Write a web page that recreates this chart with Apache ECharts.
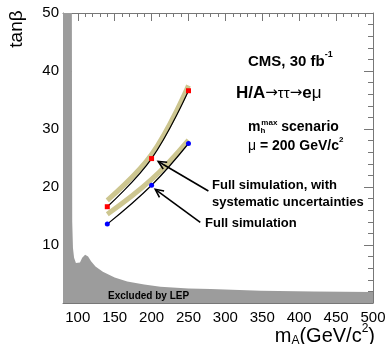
<!DOCTYPE html>
<html><head><meta charset="utf-8">
<script src="https://cdn.jsdelivr.net/npm/echarts@6/dist/echarts.min.js"></script>
<style>html,body{margin:0;padding:0;background:#fff}#c{width:389px;height:344px}</style>
</head><body><div id="c"></div>
<script>
// ---- data ----
const xTickLabels = [100, 150, 200, 250, 300, 350, 400, 450, 500];
const yTickLabels = [10, 20, 30, 40, 50];
const lepMass = [80, 92, 92.5, 93.5, 95, 97.5, 100, 103, 106, 110, 114, 118, 124, 134, 150, 167, 190, 212, 250, 280, 348, 420, 500];
const lepTanb = [50, 50, 14, 9.5, 7.8, 6.9, 6.6, 7.0, 7.8, 8.3, 8.0, 7.2, 6.3, 5.4, 4.4, 3.7, 3.2, 2.8, 2.5, 2.4, 2.1, 2.0, 1.9];
const massPoints = [140, 200, 250];
const fullSimSyst = [16.6, 24.9, 36.6];
const fullSim = [13.6, 20.3, 27.5];
const bandSyst = [17.7, 25.6, 37.5];
const bandSim = [15.3, 21.3, 28.1];
const arrowTail = [[277, 19.3], [266, 13.9]];
const arrowHead = [[209, 24.4], [205, 19.6]];

const zip = (a, b) => a.map((v, i) => [v, b[i]]);

// ---- text layout helper ----
const mctx = document.createElement('canvas').getContext('2d');
function tw(text, font) { mctx.font = font; return mctx.measureText(text).width; }
function runs(x, y, parts, anchor) {
  const total = parts.reduce((s, p) => s + tw(p[0], p[1]) + (p[3] || 0), 0);
  let cx = anchor === 'right' ? x - total : x;
  return parts.map(p => {
    const el = { type: 'text', x: cx, y: y + (p[2] || 0), z: 100,
      style: { text: p[0], font: p[1], fill: '#000', textAlign: 'left', textVerticalAlign: 'middle', align: 'left', verticalAlign: 'middle' } };
    cx += tw(p[0], p[1]) + (p[3] || 0);
    return el;
  });
}
const F = '"Liberation Sans", Arial, sans-serif';
const D = '"DejaVu Sans", sans-serif';
const B = s => 'bold ' + s + 'px ' + F;
const N = s => s + 'px ' + F;

const graphics = [].concat(
  runs(248, 62, [['CMS, 30 fb', B(15)], ['-1', B(9), -7]]),
  runs(236, 93, [['H/A', B(17)], ['\u2192', '15px ' + D, 0], ['\u03c4\u03c4', N(15), 1], ['\u2192', '15px ' + D, 0], ['e', B(17)], ['\u03bc', N(17)]]),
  runs(248, 127, [['m', B(14)], ['h', B(8), 4, -4], ['max', B(8), -4], [' scenario', B(14)]]),
  runs(248, 146, [['\u03bc', N(14)], [' = 200 GeV/c', B(14)], ['2', B(8), -6]]),
  runs(212, 185, [['Full simulation, with', B(13)]]),
  runs(212, 202, [['systematic uncertainties', B(13)]]),
  runs(205, 223, [['Full simulation', B(13)]]),
  runs(108, 296, [['Excluded by LEP', B(10)]]),
  runs(375, 336, [['m', N(20)], ['A', N(12), 5], ['(GeV/c', N(20)], ['2', N(12), -7], [')', N(20)]], 'right'),
  [{ type: 'text', x: 17, y: 29, rotation: Math.PI / 2, z: 100,
     style: { text: 'tan\u03b2', font: N(19), fill: '#000', textAlign: 'center', textVerticalAlign: 'middle', align: 'center', verticalAlign: 'middle' } }]
);

const frameColor = '#777';
const xBase = { type: 'value', min: 80, max: 500, splitLine: { show: false } };
const yBase = { type: 'value', min: 0, max: 50, interval: 10, splitLine: { show: false } };

const option = {
  animation: false,
  backgroundColor: '#fff',
  grid: { left: 63, right: 16, top: 13, bottom: 41, containLabel: false, outerBoundsMode: 'none' },
  xAxis: [
    Object.assign({}, xBase, { position: 'bottom',
      axisLine: { show: true, lineStyle: { color: frameColor } },
      axisTick: { show: true, inside: true, length: 8, customValues: xTickLabels, lineStyle: { color: frameColor } },
      axisLabel: { show: true, customValues: xTickLabels, color: '#000', fontSize: 15, fontFamily: F, margin: 7 } }),
    Object.assign({}, xBase, { position: 'bottom', interval: 10,
      axisLine: { show: false }, axisLabel: { show: false },
      axisTick: { show: true, inside: true, length: 4, lineStyle: { color: frameColor } } }),
    Object.assign({}, xBase, { position: 'top',
      axisLine: { show: true, lineStyle: { color: frameColor } }, axisLabel: { show: false },
      axisTick: { show: true, inside: true, length: 8, customValues: xTickLabels, lineStyle: { color: frameColor } } }),
    Object.assign({}, xBase, { position: 'top', interval: 10,
      axisLine: { show: false }, axisLabel: { show: false },
      axisTick: { show: true, inside: true, length: 4, lineStyle: { color: frameColor } } })
  ],
  yAxis: [
    Object.assign({}, yBase, { position: 'left',
      axisLine: { show: true, lineStyle: { color: frameColor } },
      axisTick: { show: true, inside: true, length: 9, lineStyle: { color: frameColor } },
      minorTick: { show: true, splitNumber: 5, length: 5, lineStyle: { color: frameColor } },
      axisLabel: { color: '#000', fontSize: 15, fontFamily: F, margin: 4,
        formatter: v => yTickLabels.indexOf(v) >= 0 ? String(v) : '' } }),
    Object.assign({}, yBase, { position: 'right',
      axisLine: { show: true, lineStyle: { color: frameColor } },
      axisTick: { show: true, inside: true, length: 9, lineStyle: { color: frameColor } },
      minorTick: { show: true, splitNumber: 5, length: 5, lineStyle: { color: frameColor } },
      axisLabel: { show: false } })
  ],
  series: [
    { type: 'line', data: zip(lepMass, lepTanb), symbol: 'none', z: 1,
      lineStyle: { width: 0 }, areaStyle: { color: '#9c9c9c', opacity: 1 } },
    { type: 'line', data: zip(massPoints, bandSyst), symbol: 'none', smooth: 0.4, z: 2,
      lineStyle: { color: '#cdc690', width: 5, cap: 'butt' } },
    { type: 'line', data: zip(massPoints, bandSim), symbol: 'none', smooth: 0.4, z: 2,
      lineStyle: { color: '#cdc690', width: 5, cap: 'butt' } },
    { type: 'line', data: zip(massPoints, fullSimSyst), smooth: 0.4, z: 3,
      symbol: 'rect', symbolSize: 5, showSymbol: true,
      itemStyle: { color: '#ff0000' }, lineStyle: { color: '#000', width: 1.2 } },
    { type: 'line', data: zip(massPoints, fullSim), smooth: 0.4, z: 3,
      symbol: 'circle', symbolSize: 5, showSymbol: true,
      itemStyle: { color: '#0000ff' }, lineStyle: { color: '#000', width: 1.2 } },
    { type: 'custom', z: 4, silent: true,
      data: arrowTail.map((t, i) => [t[0], t[1], arrowHead[i][0], arrowHead[i][1]]),
      encode: { x: [0, 2], y: [1, 3] },
      renderItem: (params, api) => {
        const t = api.coord([api.value(0), api.value(1)]);
        const h = api.coord([api.value(2), api.value(3)]);
        const ang = Math.atan2(t[1] - h[1], t[0] - h[0]);
        const L = 9, a = 0.45;
        const p1 = [h[0] + L * Math.cos(ang + a), h[1] + L * Math.sin(ang + a)];
        const p2 = [h[0] + L * Math.cos(ang - a), h[1] + L * Math.sin(ang - a)];
        const st = { stroke: '#000', lineWidth: 1.6, fill: null };
        return { type: 'group', children: [
          { type: 'line', shape: { x1: t[0], y1: t[1], x2: h[0], y2: h[1] }, style: st },
          { type: 'polyline', shape: { points: [p1, h, p2] }, style: st }
        ] };
      } }
  ],
  graphic: graphics
};
const chart = echarts.init(document.getElementById('c'));
chart.setOption(option);
</script>
</body></html>
